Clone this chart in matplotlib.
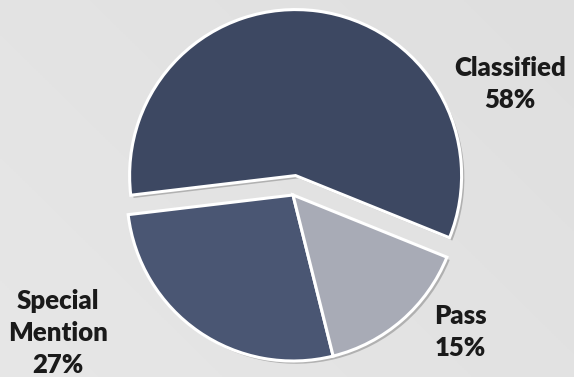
import matplotlib
matplotlib.use("Agg")
import matplotlib.pyplot as plt
import matplotlib.patheffects as pe
import numpy as np

categories = ["Classified", "Special Mention", "Pass"]
values = [58, 27, 15]
colors = ["#3D4862", "#4A5673", "#A8ABB6"]
explode_frac = [0.118, 0, 0]

W, H = 574, 377
R = 166
fig = plt.figure(figsize=(W / 100, H / 100), dpi=100)
# gradient background
bg = fig.add_axes([0, 0, 1, 1])
grad = np.linspace(0, 1, 256)
xx, yy = np.meshgrid(grad, grad)
img = 0.905 - 0.03 * (xx * 0.6 + (1 - yy) * 0.4)
bg.imshow(np.dstack([img, img, img]), extent=[0, 1, 0, 1], aspect="auto", origin="upper")
bg.set_axis_off()

ax = fig.add_axes([0, 0, 1, 1])
ax.patch.set_alpha(0)

wedges, _ = ax.pie(values, colors=colors, explode=[e * R for e in explode_frac],
                   startangle=-22, counterclock=True, center=(293, H - 195), radius=R,
                   wedgeprops=dict(edgecolor="white", linewidth=2.2),
                   frame=True)
for w in wedges:
    w.set_path_effects([pe.SimplePatchShadow(offset=(2, -2), alpha=0.35, shadow_rgbFace="#555555"),
                        pe.Normal()])
ax.set_xlim(0, W)
ax.set_ylim(0, H)
ax.set_axis_off()

label_pos = {
    "Classified": (510, H - 84),
    "Special Mention": (58, H - 333),
    "Pass": (460, H - 332),
}
for cat, v in zip(categories, values):
    x, y = label_pos[cat]
    name = cat.replace(" ", "\n")
    ax.text(x, y, f"{name}\n{v}%", ha="center", va="center", fontsize=18.5,
            fontweight="heavy", family="Lato", color="#1a1a1a", linespacing=1.4)

fig.savefig("out.png", dpi=100)
